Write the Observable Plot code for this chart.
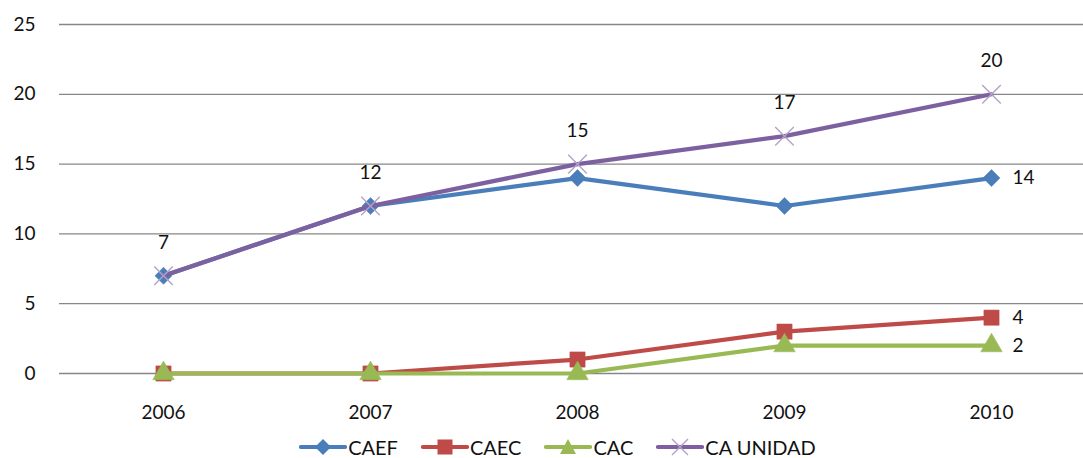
<!DOCTYPE html>
<html>
<head>
<meta charset="utf-8">
<script src="https://cdn.jsdelivr.net/npm/d3@7"></script>
<script src="https://cdn.jsdelivr.net/npm/@observablehq/plot@0.6"></script>
<style>
  html, body { margin: 0; padding: 0; background: #fff; }
  body { width: 1083px; height: 458px; overflow: hidden; font-family: Lato, "Open Sans", sans-serif; }
  #legend { display: flex; justify-content: center; align-items: center; gap: 23px; height: 28px; margin-top: 3px; margin-left: 32px; font-size: 20px; color: #111; }
  #legend .item { display: flex; align-items: center; }
  #legend svg { display: block; margin-right: 1px; }
</style>
</head>
<body>
<div id="chart"></div>
<div id="legend"></div>
<script>
const years = ["2006", "2007", "2008", "2009", "2010"];
const seriesNames = ["CAEF", "CAEC", "CAC", "CA UNIDAD"];
const caef = [7, 12, 14, 12, 14];
const caec = [0, 0, 1, 3, 4];
const cac = [0, 0, 0, 2, 2];
const caUnidad = [7, 12, 15, 17, 20];
const yTicks = [0, 5, 10, 15, 20, 25];

const colors = {"CAEF": "#4A7EBB", "CAEC": "#BE4B48", "CAC": "#98B954", "CA UNIDAD": "#7D60A0"};
const markerColors = {"CAEF": "#4A7EBB", "CAEC": "#BE4B48", "CAC": "#98B954", "CA UNIDAD": "#B3A2C7"};
const symbols = {"CAEF": "square", "CAEC": "square", "CAC": "triangle", "CA UNIDAD": "times"};
const rotations = {"CAEF": 45, "CAEC": 0, "CAC": 0, "CA UNIDAD": 0};
const sizes = {"CAEF": 6.8, "CAEC": 8.6, "CAC": 8, "CA UNIDAD": 8.5};

const valuesBySeries = {"CAEF": caef, "CAEC": caec, "CAC": cac, "CA UNIDAD": caUnidad};
const data = seriesNames.flatMap(s => years.map((y, i) => ({series: s, year: y, value: valuesBySeries[s][i]})));

const marks = [
  Plot.ruleY(yTicks, {stroke: "#878787", strokeWidth: 1.3})
];
for (const s of seriesNames) {
  const d = data.filter(r => r.series === s);
  marks.push(Plot.line(d, {x: "year", y: "value", stroke: colors[s], strokeWidth: 4.2, strokeLinejoin: "round"}));
  marks.push(Plot.dot(d, {
    x: "year", y: "value", symbol: () => symbols[s], r: sizes[s], rotate: rotations[s],
    fill: s === "CA UNIDAD" ? "none" : markerColors[s],
    stroke: markerColors[s], strokeWidth: s === "CA UNIDAD" ? 1.4 : 0.5
  }));
}
// data labels
const topLabels = data.filter(r => r.series === "CA UNIDAD");
const sideLabels = data.filter(r => r.year === "2010" && r.series !== "CA UNIDAD");
marks.push(Plot.text(topLabels, {x: "year", y: "value", text: d => String(d.value), dy: -33, fontSize: 19, fill: "#111"}));
marks.push(Plot.text(sideLabels, {x: "year", y: "value", text: d => String(d.value), dx: 21, textAnchor: "start", fontSize: 19, fill: "#111"}));

const chart = Plot.plot({
  width: 1083,
  height: 430,
  marginLeft: 59,
  marginRight: 0,
  marginTop: 24,
  marginBottom: 57,
  style: {fontFamily: "Lato, 'Open Sans', sans-serif", fontSize: "19px", background: "#fff", color: "#111"},
  x: {type: "point", domain: years, range: [162, 991], padding: 0, label: null},
  y: {domain: [0, 25], label: null},
  symbol: {type: "identity"},
  marks: [
    ...marks,
    Plot.axisX({tickSize: 0, tickPadding: 32, fontSize: 19, label: null}),
    Plot.axisY(yTicks, {tickSize: 0, tickPadding: 24, fontSize: 19, label: null})
  ]
});
document.getElementById("chart").appendChild(chart);

// legend
const legend = document.getElementById("legend");
const symbolPaths = {
  "CAEF": c => `<path d="M24,3 L32,11 L24,19 L16,11 Z" fill="${c}"/>`,
  "CAEC": c => `<rect x="16.5" y="3.5" width="15" height="15" fill="${c}"/>`,
  "CAC": c => `<path d="M24,3 L32,18 L16,18 Z" fill="${c}"/>`,
  "CA UNIDAD": c => `<path d="M16,3 L32,19 M32,3 L16,19" stroke="#B3A2C7" stroke-width="1.4"/>`
};
for (const s of seriesNames) {
  const item = document.createElement("div");
  item.className = "item";
  item.innerHTML = `<svg width="48" height="22"><line x1="2" y1="11" x2="46" y2="11" stroke="${colors[s]}" stroke-width="4.2" stroke-linecap="round"/>${symbolPaths[s](colors[s])}</svg><span>${s}</span>`;
  legend.appendChild(item);
}
</script>
</body>
</html>
